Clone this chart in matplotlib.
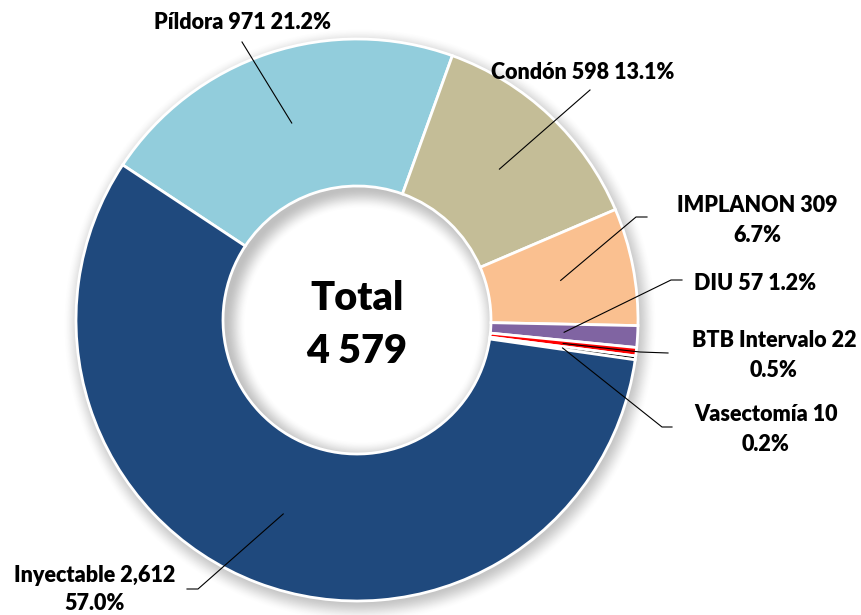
import matplotlib
matplotlib.use("Agg")
import matplotlib.pyplot as plt
import numpy as np

plt.rcParams["font.family"] = ["Lato", "DejaVu Sans"]

# datos (orden horario desde Píldora)
metodos = ["Píldora", "Condón", "IMPLANON", "DIU", "BTB Intervalo", "Vasectomía", "Inyectable"]
cantidades = [971, 598, 309, 57, 22, 10, 2612]
colores = ["#92CDDC", "#C4BD97", "#FAC090", "#8064A2", "#FF0000", "#000000", "#1F497D"]

total = sum(cantidades)
pct = [100 * v / total for v in cantidades]

W, H = 861, 615
def P(x, y):
    # pixel (origen arriba-izq) -> datos
    return x, H - y

cx, cy = P(357, 320)
R_out, R_in = 281, 134

fig = plt.figure(figsize=(W / 100, H / 100), dpi=100)
ax = fig.add_axes([0, 0, 1, 1])

# sombras tipo Excel
xs = np.arange(W) + 0.5
ys = np.arange(H) + 0.5
X, Y = np.meshgrid(xs, ys)

def smooth(a, b, v):
    t = np.clip((v - a) / (b - a), 0, 1)
    return t * t * (3 - 2 * t)

d0 = np.hypot(X - cx, Y - cy)
d_out = np.hypot(X - (cx + 3), Y - (cy - 5))
a_out = 0.42 * (1 - smooth(R_out - 6, R_out + 16, d_out)) * (d0 > R_out - 4)
img = np.zeros((H, W, 4))
img[..., :3] = 0.45
img[..., 3] = a_out
ax.imshow(img, extent=(0, W, 0, H), origin="lower", zorder=0, interpolation="bilinear")

d1 = np.hypot(X - (cx + 5), Y - (cy - 5))
a_in = 0.45 * smooth(R_in - 18, R_in + 3, d1) * (d0 < R_in)
img2 = np.zeros((H, W, 4))
img2[..., :3] = 0.45
img2[..., 3] = a_in
ax.imshow(img2, extent=(0, W, 0, H), origin="lower", zorder=1, interpolation="bilinear")

wedges, _ = ax.pie(cantidades, colors=colores, startangle=146.5, counterclock=False,
                   radius=R_out, center=(cx, cy),
                   wedgeprops=dict(width=R_out - R_in, edgecolor="white", linewidth=2))
for w in wedges:
    w.set_zorder(2)

ax.set_xlim(0, W)
ax.set_ylim(0, H)
ax.set_aspect("equal")
ax.axis("off")

def fmt_n(v):
    return f"{v:,}" if v >= 1000 else str(v)

lines = [
    [f"{metodos[0]} {fmt_n(cantidades[0])} {pct[0]:.1f}%"],
    [f"{metodos[1]} {fmt_n(cantidades[1])} {pct[1]:.1f}%"],
    [f"{metodos[2]} {fmt_n(cantidades[2])}", f"{pct[2]:.1f}%"],
    [f"{metodos[3]} {fmt_n(cantidades[3])} {pct[3]:.1f}%"],
    [f"{metodos[4]} {fmt_n(cantidades[4])}", f"{pct[4]:.1f}%"],
    [f"{metodos[5]} {fmt_n(cantidades[5])}", f"{pct[5]:.1f}%"],
    [f"{metodos[6]} {fmt_n(cantidades[6])}", f"{pct[6]:.1f}%"],
]
text_x = [242, 583, 757, 755, 774, 766, 95]
text_base = [[29], [79], [212, 242], [290], [347, 377], [421, 451], [582, 610]]
conector = [
    [(242, 42)],
    [(590, 90)],
    [(636, 217), (647, 217)],
    [(671, 280), (682, 280)],
    [(640, 352), (668, 353)],
    [(662, 427), (672, 427)],
    [(198, 589), (187, 589)],
]

for i, w in enumerate(wedges):
    ang = np.deg2rad((w.theta1 + w.theta2) / 2)
    rm = w.r - w.width / 2
    ax0 = cx + rm * np.cos(ang)
    ay0 = cy + rm * np.sin(ang)
    pts = [(ax0, ay0)] + [P(*p) for p in conector[i]]
    ax.plot([p[0] for p in pts], [p[1] for p in pts], color="black", lw=0.8, zorder=3)
    for s, b in zip(lines[i], text_base[i]):
        ax.text(*P(text_x[i], b), s, ha="center", va="baseline",
                fontsize=15.5, fontweight="heavy", color="black", zorder=4)

ax.text(*P(357, 310), "Total", ha="center", va="baseline", fontsize=28.5,
        fontweight="heavy", zorder=4)
ax.text(*P(357, 363), f"{total:,}".replace(",", " "), ha="center", va="baseline",
        fontsize=28.5, fontweight="heavy", zorder=4)

fig.savefig("out.png", dpi=100)
